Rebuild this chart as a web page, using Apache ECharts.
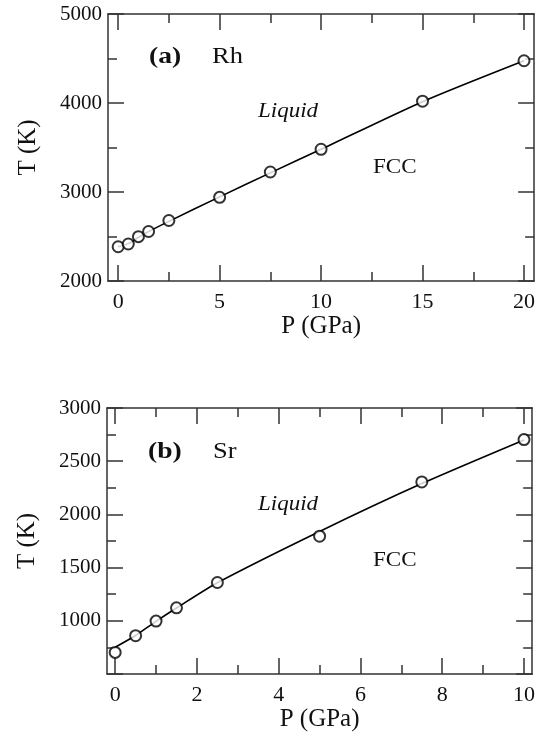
<!DOCTYPE html>
<html>
<head>
<meta charset="utf-8">
<script src="https://cdn.jsdelivr.net/npm/echarts@6/dist/echarts.min.js"></script>
<style>
  html, body { margin: 0; padding: 0; background: #fff; }
  #chart { width: 538px; height: 740px; }
</style>
</head>
<body>
<div id="chart"></div>
<script>
// (a) Rh melting curve
const rhP = [0, 0.5, 1, 1.5, 2.5, 5, 7.5, 10, 15, 20];
const rhT = [2385, 2416, 2498, 2556, 2680, 2940, 3225, 3480, 4020, 4475];
const rhFitT = [2385, 2420, 2490, 2555, 2670, 2945, 3215, 3480, 4015, 4475];
const rhXMajor = [0, 5, 10, 15, 20];
const rhXMinor = [2.5, 7.5, 12.5, 17.5];

// (b) Sr melting curve
const srP = [0, 0.5, 1, 1.5, 2.5, 5, 7.5, 10];
const srT = [703, 860, 997, 1122, 1360, 1795, 2305, 2703];
const srFitT = [752, 862, 995, 1120, 1358, 1840, 2290, 2700];
const srXMajor = [0, 2, 4, 6, 8, 10];
const srXMinor = [1, 3, 5, 7, 9];

const serif = 'Liberation Serif';
const axisColor = '#333';
const textColor = '#111';

const chart = echarts.init(document.getElementById('chart'));

function xAxes(gridIndex, min, max, major, minor) {
  const base = {
    type: 'value', gridIndex, min, max,
    splitLine: { show: false },
    axisLine: { show: true, onZero: false, lineStyle: { color: axisColor, width: 1.5 } }
  };
  return [
    Object.assign({}, base, {
      position: 'bottom',
      name: 'P (GPa)', nameLocation: 'middle', nameGap: 33,
      nameTextStyle: { fontFamily: serif, fontSize: 25, color: textColor },
      axisTick: { inside: true, length: 16, customValues: major, lineStyle: { color: axisColor, width: 1.5 } },
      axisLabel: { customValues: major, margin: 10, fontFamily: serif, fontSize: 22, color: textColor }
    }),
    Object.assign({}, base, {
      position: 'bottom', axisLine: { show: false },
      axisTick: { inside: true, length: 9, customValues: minor, lineStyle: { color: axisColor, width: 1.5 } },
      axisLabel: { show: false }
    }),
    Object.assign({}, base, {
      position: 'top',
      axisTick: { inside: true, length: 16, customValues: major, lineStyle: { color: axisColor, width: 1.5 } },
      axisLabel: { show: false }
    }),
    Object.assign({}, base, {
      position: 'top', axisLine: { show: false },
      axisTick: { inside: true, length: 9, customValues: minor, lineStyle: { color: axisColor, width: 1.5 } },
      axisLabel: { show: false }
    })
  ];
}

function yAxes(gridIndex, min, max, interval, hideMin) {
  const base = {
    type: 'value', gridIndex, min, max, interval,
    splitLine: { show: false },
    axisLine: { show: true, onZero: false, lineStyle: { color: axisColor, width: 1.5 } },
    axisTick: { inside: true, length: 16, lineStyle: { color: axisColor, width: 1.5 } },
    minorTick: { show: true, splitNumber: 2, length: 9, lineStyle: { color: axisColor, width: 1.5 } }
  };
  return [
    Object.assign({}, base, {
      position: 'left',
      name: 'T (K)', nameLocation: 'middle', nameGap: 67,
      nameTextStyle: { fontFamily: serif, fontSize: 25, color: textColor },
      axisLabel: {
        margin: 6, fontFamily: serif, fontSize: 21, color: textColor,
        formatter: v => (hideMin && v === min ? '' : String(v))
      }
    }),
    Object.assign({}, base, { position: 'right', axisLabel: { show: false } })
  ];
}

function pairs(xs, ys) {
  return xs.map((x, i) => [x, ys[i]]);
}

function lineSeries(xi, yi, data) {
  return {
    type: 'line', xAxisIndex: xi, yAxisIndex: yi, data,
    showSymbol: false, smooth: 0.25, z: 2,
    lineStyle: { color: '#000', width: 1.6 }
  };
}

function pointSeries(xi, yi, data) {
  return {
    type: 'scatter', xAxisIndex: xi, yAxisIndex: yi, data,
    symbol: 'circle', symbolSize: 11, z: 3,
    itemStyle: { color: '#fff', borderColor: '#000', borderWidth: 2 }
  };
}

function label(text, x, y, font, sx) {
  return {
    type: 'text', x, y, scaleX: sx, silent: true,
    style: { text, font, fill: textColor, verticalAlign: 'middle' }
  };
}

chart.setOption({
  animation: false,
  backgroundColor: '#fff',
  grid: [
    { left: 108, top: 14, width: 428, height: 267 },
    { left: 107, top: 408, width: 428, height: 266 }
  ],
  xAxis: [].concat(
    xAxes(0, -0.5, 20.5, rhXMajor, rhXMinor),
    xAxes(1, -0.2, 10.2, srXMajor, srXMinor)
  ),
  yAxis: [].concat(
    yAxes(0, 2000, 5000, 1000, false),
    yAxes(1, 500, 3000, 500, true)
  ),
  series: [
    lineSeries(0, 0, pairs(rhP, rhFitT)),
    pointSeries(0, 0, pairs(rhP, rhT)),
    lineSeries(4, 2, pairs(srP, srFitT)),
    pointSeries(4, 2, pairs(srP, srT))
  ],
  graphic: [
    label('(a)', 149, 57, 'bold 23px "Liberation Serif"', 1.2),
    label('Rh', 212, 57, '23px "Liberation Serif"', 1.15),
    label('Liquid', 258, 112, 'italic 20px "Liberation Serif"', 1.15),
    label('FCC', 373, 167, '21px "Liberation Serif"', 1.1),
    label('(b)', 148, 452, 'bold 23px "Liberation Serif"', 1.2),
    label('Sr', 213, 452, '23px "Liberation Serif"', 1.15),
    label('Liquid', 258, 505, 'italic 20px "Liberation Serif"', 1.15),
    label('FCC', 373, 560, '21px "Liberation Serif"', 1.1)
  ]
});
</script>
</body>
</html>
